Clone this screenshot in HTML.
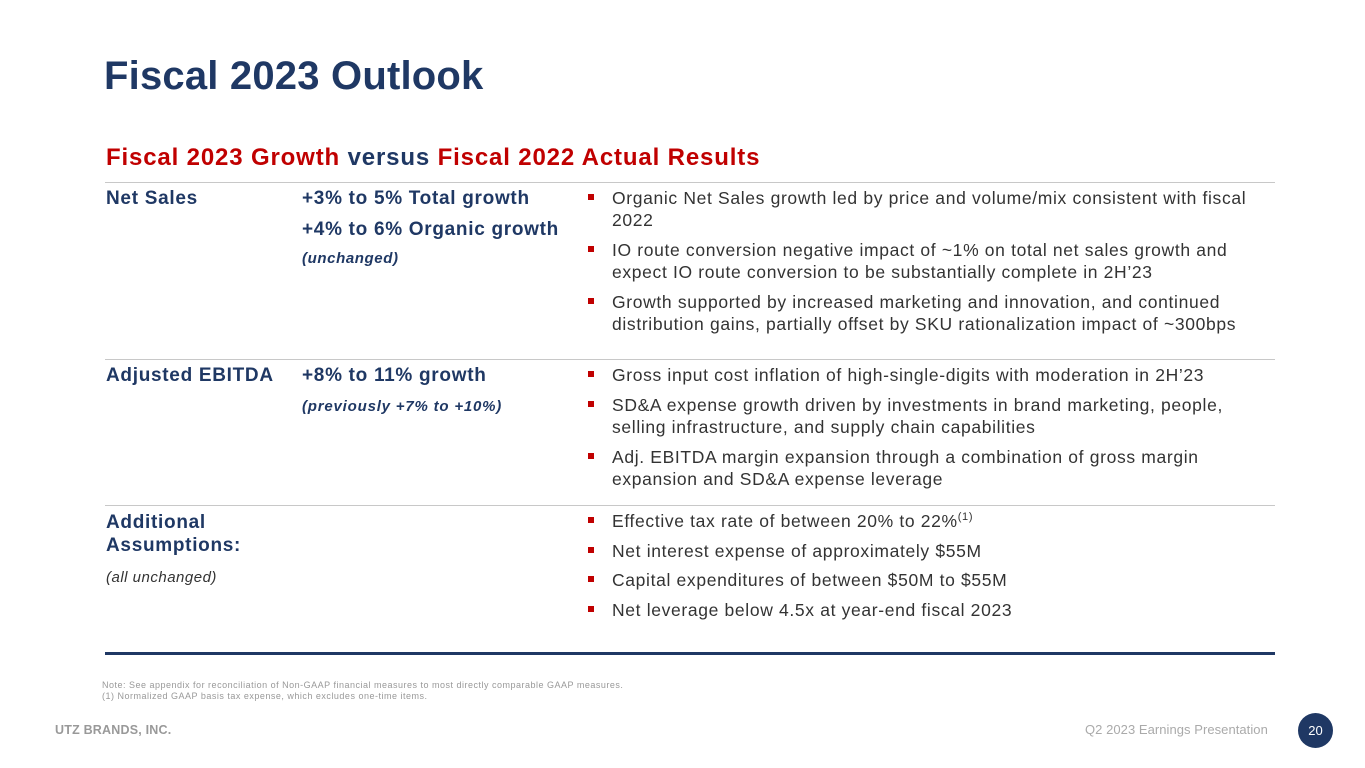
<!DOCTYPE html>
<html><head><meta charset="utf-8"><style>
body{margin:0;width:1365px;height:768px;background:#fff;position:relative;overflow:hidden;font-family:"Liberation Sans",sans-serif;}
.a{position:absolute;white-space:nowrap;}
.t{font-size:17.5px;color:#333;letter-spacing:0.65px;line-height:22px;}
.lb{font-size:19px;font-weight:bold;color:#1f3864;letter-spacing:0.7px;}
.sq{position:absolute;width:6px;height:6px;background:#c00000;}
.hr{position:absolute;left:105px;width:1170px;height:1px;background:#c8c8c8;}
</style></head><body>
<div class="a" style="left:104px;top:54px;font-size:40px;font-weight:bold;color:#1f3864;letter-spacing:0.2px;">Fiscal 2023 Outlook</div>
<div class="a" style="left:106px;top:144px;font-size:24px;font-weight:bold;color:#1f3864;letter-spacing:0.85px;"><span style="color:#c00000">Fiscal 2023 Growth</span> versus <span style="color:#c00000">Fiscal 2022 Actual Results</span></div>
<div class="hr" style="top:182px"></div>
<div class="hr" style="top:359px"></div>
<div class="hr" style="top:505px"></div>
<div class="a" style="left:105px;top:652px;width:1170px;height:3px;background:#1f3864;"></div>

<div class="a lb" style="left:106px;top:188px">Net Sales</div>
<div class="a lb" style="left:302px;top:188px">+3% to 5% Total growth</div>
<div class="a lb" style="left:302px;top:219px">+4% to 6% Organic growth</div>
<div class="a" style="left:302px;top:250px;font-size:15px;font-weight:bold;font-style:italic;color:#1f3864;letter-spacing:0.6px">(unchanged)</div>

<div class="a lb" style="left:106px;top:365px">Adjusted EBITDA</div>
<div class="a lb" style="left:302px;top:365px">+8% to 11% growth</div>
<div class="a" style="left:302px;top:398px;font-size:15px;font-weight:bold;font-style:italic;color:#1f3864;letter-spacing:0.8px">(previously +7% to +10%)</div>

<div class="a lb" style="left:106px;top:511px;line-height:23px">Additional<br>Assumptions:</div>
<div class="a" style="left:106px;top:569px;font-size:15px;font-style:italic;color:#333;letter-spacing:0.5px">(all unchanged)</div>

<div>
<div class="sq" style="left:588px;top:194px"></div>
<div class="a t" style="left:612px;top:187px">Organic Net Sales growth led by price and volume/mix consistent with fiscal<br>2022</div>
<div class="sq" style="left:588px;top:246px"></div>
<div class="a t" style="left:612px;top:239px">IO route conversion negative impact of ~1% on total net sales growth and<br>expect IO route conversion to be substantially complete in 2H’23</div>
<div class="sq" style="left:588px;top:298px"></div>
<div class="a t" style="left:612px;top:291px">Growth supported by increased marketing and innovation, and continued<br>distribution gains, partially offset by SKU rationalization impact of ~300bps</div>
</div>
<div>
<div class="sq" style="left:588px;top:371px"></div>
<div class="a t" style="left:612px;top:364px">Gross input cost inflation of high-single-digits with moderation in 2H’23</div>
<div class="sq" style="left:588px;top:401px"></div>
<div class="a t" style="left:612px;top:394px">SD&amp;A expense growth driven by investments in brand marketing, people,<br>selling infrastructure, and supply chain capabilities</div>
<div class="sq" style="left:588px;top:453px"></div>
<div class="a t" style="left:612px;top:446px">Adj. EBITDA margin expansion through a combination of gross margin<br>expansion and SD&amp;A expense leverage</div>
</div>
<div>
<div class="sq" style="left:588px;top:517px"></div>
<div class="a t" style="left:612px;top:510px">Effective tax rate of between 20% to 22%<sup style="font-size:11px;line-height:0">(1)</sup></div>
<div class="sq" style="left:588px;top:547px"></div>
<div class="a t" style="left:612px;top:540px">Net interest expense of approximately $55M</div>
<div class="sq" style="left:588px;top:576px"></div>
<div class="a t" style="left:612px;top:569px">Capital expenditures of between $50M to $55M</div>
<div class="sq" style="left:588px;top:606px"></div>
<div class="a t" style="left:612px;top:599px">Net leverage below 4.5x at year-end fiscal 2023</div>
</div>

<div class="a" style="left:102px;top:680px;font-size:9px;line-height:11px;color:#999;letter-spacing:0.5px;">Note: See appendix for reconciliation of Non-GAAP financial measures to most directly comparable GAAP measures.<br>(1) Normalized GAAP basis tax expense, which excludes one-time items.</div>
<div class="a" style="left:55px;top:723px;font-size:12.5px;font-weight:bold;color:#999;letter-spacing:0.2px;">UTZ BRANDS, INC.</div>
<div class="a" style="left:1085px;top:722px;font-size:13px;color:#aaa;letter-spacing:0.05px;">Q2 2023 Earnings Presentation</div>
<div class="a" style="left:1298px;top:713px;width:35px;height:35px;border-radius:50%;background:#1f3864;color:#fff;font-size:13px;line-height:35px;text-align:center;">20</div>
</body></html>
